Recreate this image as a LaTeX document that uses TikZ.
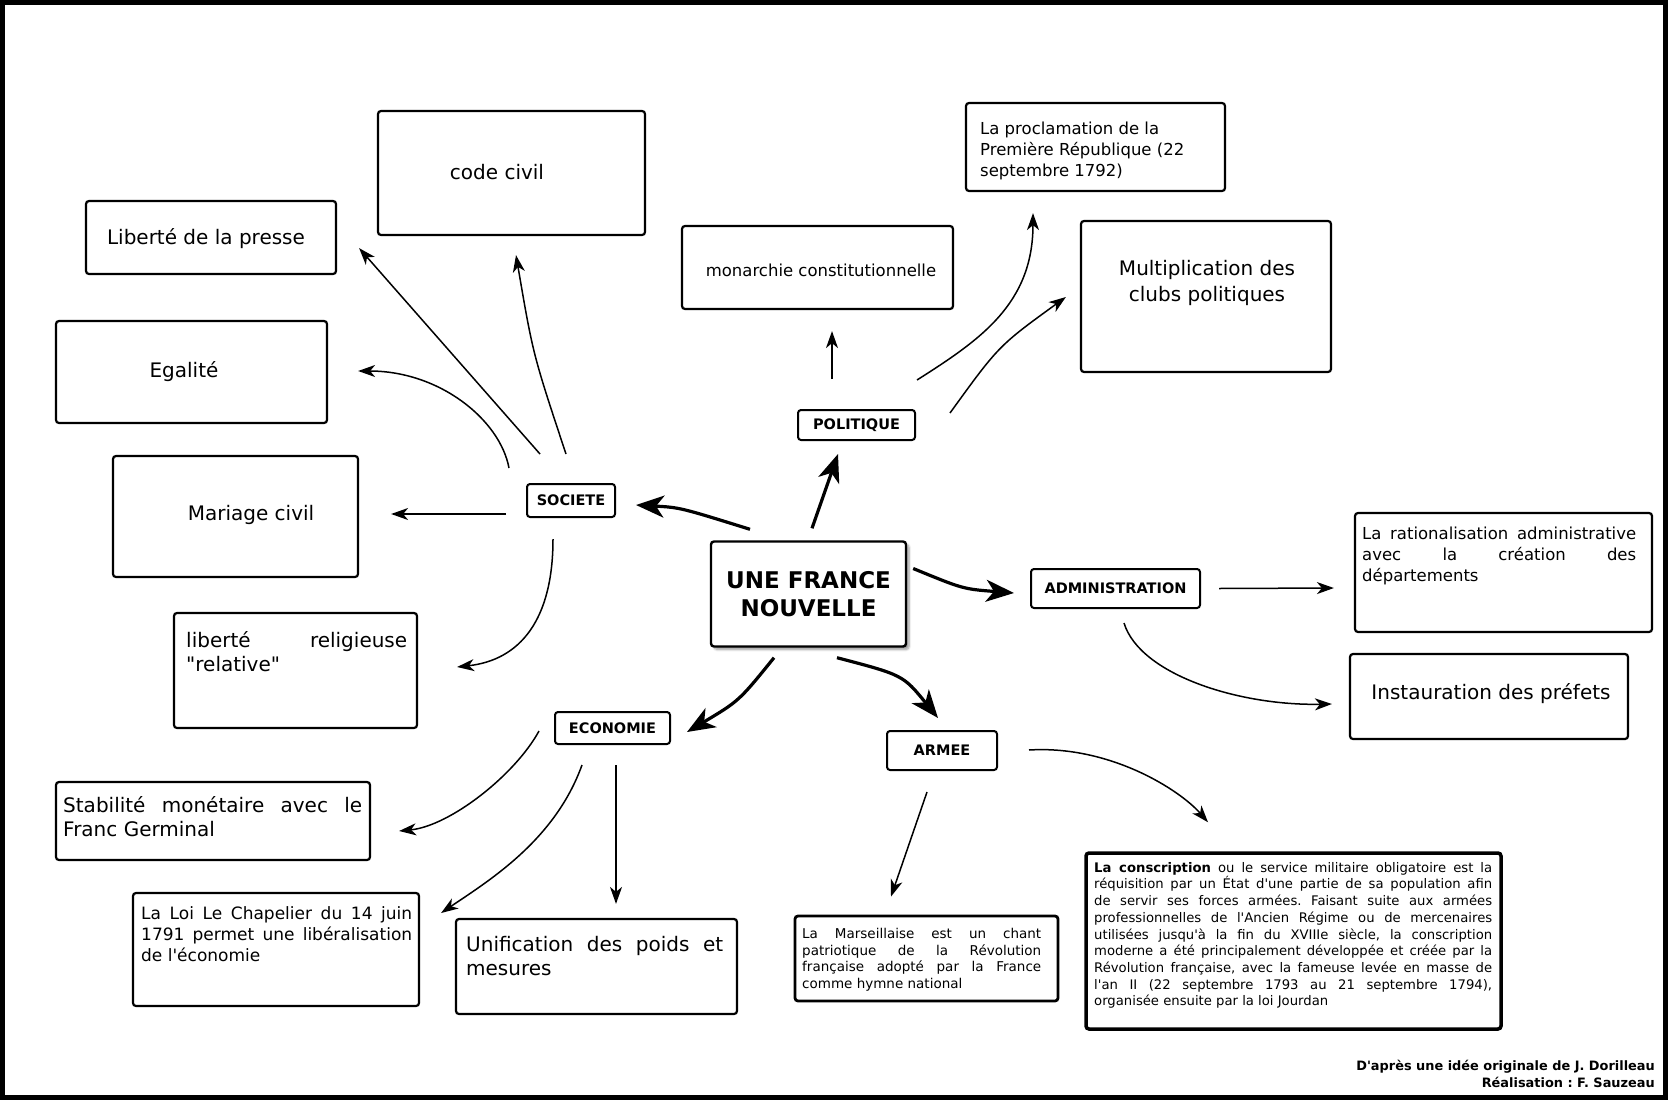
\documentclass[tikz,border=0pt]{standalone}
\usepackage{fontspec}
\setmainfont{DejaVu Sans}[Ligatures=TeXOff]
\usetikzlibrary{arrows.meta,calc,shadows.blur}
\newcommand\txtL{\fontsize{20}{24.5}\selectfont}
\newcommand\txtM{\fontsize{17}{21.3}\selectfont}
\newcommand\txtP{\fontsize{16.5}{20.7}\selectfont}
\newcommand\txtS{\fontsize{13.5}{16.7}\selectfont}
\tolerance=10000
\hyphenpenalty=10000
\frenchspacing

\begin{document}
\begin{tikzpicture}[x=1pt, y=-1pt,
  box/.style={draw, line width=2.2pt, rounded corners=3pt, inner sep=0pt},
  txt/.style={inner sep=0pt, font=\txtL},
  para/.style={inner sep=0pt, anchor=north west, align=justify},
  theme/.style={draw, line width=2pt, rounded corners=3pt, inner sep=0pt, font=\fontsize{14.5}{17}\selectfont\bfseries},
  link/.style={-{Stealth[length=17pt,width=12pt,inset=5pt]}, line width=1.5pt},
  bigarrow/.style={-{Stealth[length=28pt,width=22pt,inset=8pt]}, line width=3.2pt}
]
\useasboundingbox (0,0) rectangle (1668,1100);
\draw[line width=4.5pt] (2.5,2.5) rectangle (1665.5,1097.5);

\node[box, line width=2.4pt, fill=white, minimum width=195pt, minimum height=105pt, align=center,
  font=\fontsize{23}{28.7}\selectfont\bfseries,
  blur shadow={shadow xshift=3pt, shadow yshift=-3pt, shadow blur steps=6}] (fr) at (808.5,594) {UNE FRANCE\\NOUVELLE};

\node[theme, minimum width=88pt, minimum height=33pt] (soc) at (571,500.5) {SOCIETE};
\node[theme, minimum width=117pt, minimum height=30pt] (pol) at (856.5,425) {POLITIQUE};
\node[theme, minimum width=169pt, minimum height=39pt] (adm) at (1115.5,588.5) {ADMINISTRATION};
\node[theme, minimum width=115pt, minimum height=32pt] (eco) at (612.5,728) {ECONOMIE};
\node[theme, minimum width=110pt, minimum height=39pt] (arm) at (942,750.5) {ARMEE};

\node[box, minimum width=267pt, minimum height=124pt] (code) at (511.5,173) {};
\node[txt] (codet) at (497,172) {code civil};
\node[box, minimum width=250pt, minimum height=73pt] (lib) at (211,237.5) {};
\node[txt] (libt) at (206,239) {Liberté de la presse};
\node[box, minimum width=271pt, minimum height=102pt] (ega) at (191.5,372) {};
\node[txt] (egat) at (184,372) {Egalité};
\node[box, minimum width=245pt, minimum height=121pt] (mar) at (235.5,516.5) {};
\node[txt] (mart) at (251,514.5) {Mariage civil};
\node[box, minimum width=243pt, minimum height=115pt] (rel) at (295.5,670.5) {};
\node[para, text width=221pt, font=\txtL] (relt) at (186,631) {liberté religieuse "relative"};
\node[box, minimum width=314pt, minimum height=78pt] (sta) at (213,821) {};
\node[para, text width=299pt, font=\txtL] (stat) at (63,796) {Stabilité monétaire avec le Franc Germinal};
\node[box, minimum width=286pt, minimum height=113pt] (cha) at (276,949.5) {};
\node[para, text width=271pt, font=\txtM] (chat) at (141,906) {La Loi Le Chapelier du 14 juin 1791 permet une libéralisation de l'économie};
\node[box, minimum width=281pt, minimum height=95pt] (uni) at (596.5,966.5) {};
\node[para, text width=257pt, font=\txtL] (unit) at (466,936) {Unification des poids et mesures};

\node[box, minimum width=271pt, minimum height=83pt] (mon) at (817.5,267.5) {};
\node[txt, font=\txtP] (mont) at (821,270.5) {monarchie constitutionnelle};
\node[box, minimum width=259pt, minimum height=88pt] (pro) at (1095.5,147) {};
\node[para, align=left, font=\txtP] (prot) at (980,122) {La proclamation de la\\Première République (22\\septembre 1792)};
\node[box, minimum width=250pt, minimum height=151pt] (mul) at (1206,296.5) {};
\node[txt, align=center, font=\fontsize{20}{25.5}\selectfont] (mult) at (1207,283) {Multiplication des\\clubs politiques};

\node[box, minimum width=297pt, minimum height=119pt] (rat) at (1503.5,572.5) {};
\node[para, text width=274pt, font=\txtP] (ratt) at (1362,527) {La rationalisation administrative avec la création des départements};
\node[box, minimum width=278pt, minimum height=85pt] (pre) at (1489,696.5) {};
\node[txt] (pret) at (1491,694) {Instauration des préfets};

\node[box, line width=2.8pt, minimum width=263pt, minimum height=85pt] (mars) at (926.5,958.5) {};
\node[para, text width=239pt, font=\txtS] (marst) at (802,928) {La Marseillaise est un chant patriotique de la Révolution française adopté par la France comme hymne national};
\node[box, line width=3.5pt, minimum width=415pt, minimum height=176pt] (con) at (1293.5,941) {};
\node[para, text width=398pt, font=\fontsize{13.2}{16.7}\selectfont] (cont) at (1094,862) {\textbf{La conscription} ou le service militaire obligatoire est la réquisition par un État d'une partie de sa population afin de servir ses forces armées. Faisant suite aux armées professionnelles de l'Ancien Régime ou de mercenaires utilisées jusqu'à la fin du XVIIIe siècle, la conscription moderne a été principalement développée et créée par la\linebreak Révolution française, avec la fameuse levée en masse de\linebreak l'an II (22 septembre 1793 au 21 septembre 1794),\linebreak organisée ensuite par la loi Jourdan};

\node[anchor=east, align=right, inner sep=0pt, font=\fontsize{12.9}{17}\selectfont\bfseries] (credit) at (1655,1074) {D'après une idée originale de J. Dorilleau\\Réalisation : F. Sauzeau};

\draw[bigarrow] ($(fr.north)+(-58.5,-11)$) .. controls (680,507.5) .. ($(soc.east)+(20,4.5)$);
\draw[bigarrow] ($(fr.north)+(3.5,-12)$) -- ($(pol.south)+(-18.5,13)$);
\draw[bigarrow] ($(fr.east)+(6,-25.5)$) .. controls (963,589) .. ($(adm.west)+(-16,4.5)$);
\draw[bigarrow] ($(fr.south)+(-34.5,10)$) .. controls (739,701) .. ($(eco.east)+(16,4)$);
\draw[bigarrow] ($(fr.south)+(28.5,10)$) .. controls (903,675) .. ($(arm.north)+(-4,-12)$);

\draw[link] ($(soc.north)+(-5,-29)$) .. controls (533,354.5) .. ($(code.south)+(4.5,19)$);
\draw[link] ($(soc.north)+(-31,-29)$) -- ($(lib.south east)+(22,-27)$);
\draw[link] ($(soc.west)+(-17,-32.5)$) .. controls (500,420) and (440,371) .. ($(ega.east)+(30,-1)$);
\draw[link] ($(soc.west)+(-20,13.5)$) -- ($(mar.east)+(32,-2.5)$);
\draw[link] ($(soc.south)+(-18,21)$) .. controls (553,620) and (520,660) .. ($(rel.east)+(39,-3.5)$);

\draw[link] ($(pol.north)+(-24.5,-30)$) -- ($(mon.south)+(14.5,21)$);
\draw[link] ($(pol.east)+(1,-45)$) .. controls (980,340) and (1033,304) .. ($(pro.south)+(-62.5,21)$);
\draw[link] ($(pol.east)+(34,-12)$) .. controls (998.7,345.7) .. ($(mul.west)+(-14,0.5)$);

\draw[link] ($(adm.east)+(18,0)$) -- ($(rat.west)+(-20,15.5)$);
\draw[link] ($(adm.south)+(8.5,14)$) .. controls (1140,675) and (1240,706) .. ($(pre.west)+(-17,7.5)$);

\draw[link] ($(eco.west)+(-15,3)$) .. controls (515,775) and (450,826) .. ($(sta.east)+(28,10)$);
\draw[link] ($(eco.south)+(-30.5,20)$) .. controls (555,840) and (490,880) .. ($(cha.east)+(21,-36.5)$);
\draw[link] ($(eco.south)+(3.5,20)$) -- ($(uni.north)+(19.5,-14)$);

\draw[link] ($(arm.south)+(-15,21)$) -- ($(mars.north)+(-35.5,-18)$);
\draw[link] ($(arm.east)+(31,-0.5)$) .. controls (1110,745) and (1180,790) .. ($(con.north)+(-85.5,-29)$);
\end{tikzpicture}
\end{document}
